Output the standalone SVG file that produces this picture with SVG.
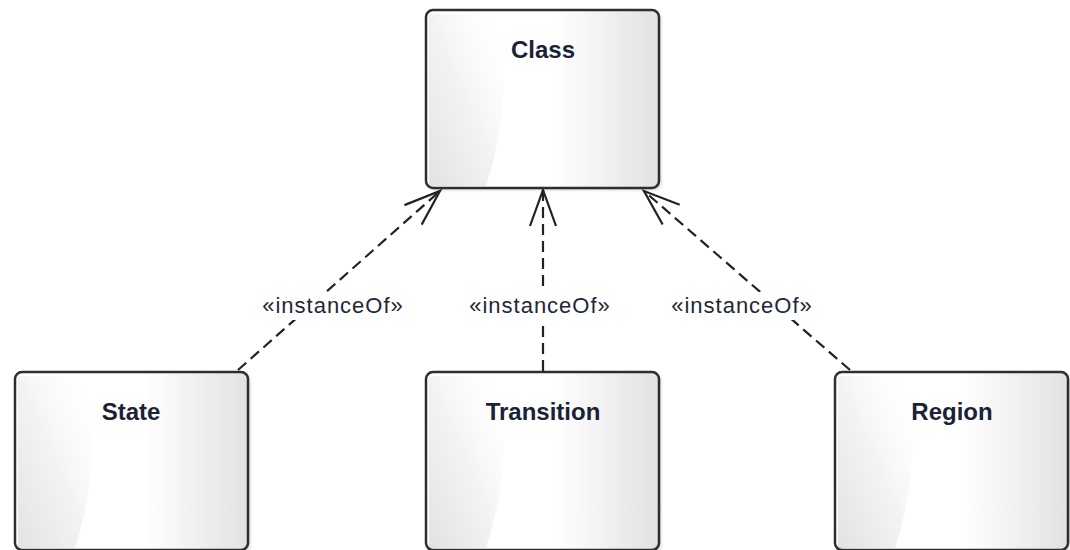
<svg xmlns="http://www.w3.org/2000/svg" width="1070" height="550" viewBox="0 0 1070 550">
  <style>
    .frame { stroke: #2e2e2e; stroke-width: 2.5; }
    .title { font-family: "Liberation Sans", Arial, sans-serif; font-weight: bold; font-size: 24px; fill: #1b2236; text-anchor: middle; }
    .dep { fill: none; stroke: #222; stroke-width: 2.2; stroke-dasharray: 11 6; }
    .stereo { font-family: "Liberation Sans", Arial, sans-serif; font-size: 22px; letter-spacing: 1px; fill: #1f2738; text-anchor: middle; }
    .mask { fill: #ffffff; }
  </style>
  <defs>
    <linearGradient id="bodyFill" x1="0" y1="0" x2="1" y2="0">
      <stop offset="0" stop-color="#ffffff"/>
      <stop offset="0.55" stop-color="#ffffff"/>
      <stop offset="1" stop-color="#e2e2e2"/>
    </linearGradient>
    <linearGradient id="swoosh" x1="1" y1="0" x2="0" y2="1">
      <stop offset="0" stop-color="#ffffff" stop-opacity="0"/>
      <stop offset="0.5" stop-color="#f0f0f0" stop-opacity="0.8"/>
      <stop offset="1" stop-color="#e2e2e2"/>
    </linearGradient>
    <filter id="soft" x="-5%" y="-5%" width="115%" height="115%">
      <feDropShadow dx="2" dy="2" stdDeviation="1.5" flood-color="#000" flood-opacity="0.18"/>
    </filter>
    <!-- shared class box body, origin at top-left -->
    <g id="box">
      <rect x="0" y="0" width="233" height="178" rx="7" fill="url(#bodyFill)" filter="url(#soft)"/>
      <path d="M 3,4 L 72,4 Q 88,90 60,176 L 3,176 Z" fill="url(#swoosh)"/>
      <rect class="frame" x="0" y="0" width="233" height="178" rx="7" fill="none"/>
    </g>
    <marker id="openArrow" markerUnits="userSpaceOnUse" viewBox="-40 -16 44 32" markerWidth="44" markerHeight="32" refX="0" refY="0" orient="auto">
      <path d="M -36,-13 L 0,0 L -36,13" fill="none" stroke="#222" stroke-width="2.2" stroke-linejoin="miter"/>
    </marker>
  </defs>

  <g id="connectors">
    <line class="dep" x1="238" y1="370" x2="440" y2="191" marker-end="url(#openArrow)"/>
    <line class="dep" x1="543" y1="371" x2="543" y2="190" marker-end="url(#openArrow)"/>
    <line class="dep" x1="850" y1="370" x2="644" y2="191" marker-end="url(#openArrow)"/>
    <rect class="mask" x="256" y="292" width="154" height="28"/>
    <text class="stereo" x="333" y="313">«instanceOf»</text>
    <rect class="mask" x="463" y="292" width="154" height="28"/>
    <text class="stereo" x="540" y="313">«instanceOf»</text>
    <rect class="mask" x="665" y="292" width="154" height="28"/>
    <text class="stereo" x="742" y="313">«instanceOf»</text>
  </g>

  <g id="node-class">
    <use href="#box" x="426" y="10"/>
    <text class="title" x="543" y="58">Class</text>
  </g>
  <g id="node-state">
    <use href="#box" x="15" y="372"/>
    <text class="title" x="131" y="420">State</text>
  </g>
  <g id="node-transition">
    <use href="#box" x="426" y="372"/>
    <text class="title" x="543" y="420">Transition</text>
  </g>
  <g id="node-region">
    <use href="#box" x="835" y="372"/>
    <text class="title" x="952" y="420">Region</text>
  </g>
</svg>
